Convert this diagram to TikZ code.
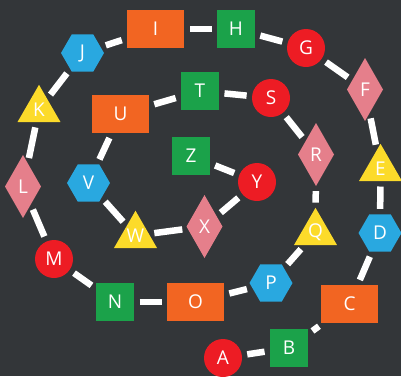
\documentclass[tikz,border=0pt]{standalone}
\usepackage{fontspec}
\setmainfont{Open Sans}
\usetikzlibrary{shapes.geometric}
\definecolor{bg}{HTML}{333639}
\definecolor{cred}{HTML}{ED1C24}
\definecolor{cgreen}{HTML}{1BA24A}
\definecolor{corange}{HTML}{F26522}
\definecolor{cblue}{HTML}{29A8E0}
\definecolor{cyellow}{HTML}{FCDB2A}
\definecolor{cpink}{HTML}{E57F8B}
\tikzset{
  base/.style={inner sep=0pt, outer sep=0pt, text=white, font=\fontsize{19}{19}\selectfont},
  circ/.style={base, circle, fill=cred, minimum size=38pt},
  sq/.style={base, rectangle, fill=cgreen, minimum width=38pt, minimum height=38pt},
  rect/.style={base, rectangle, fill=corange, minimum width=57pt, minimum height=38pt},
  hex/.style={base, regular polygon, regular polygon sides=6, fill=cblue, minimum size=43pt},
  tri/.style={base, regular polygon, regular polygon sides=3, fill=cyellow, minimum size=49.6pt},
  dia/.style={base, diamond, fill=cpink, minimum width=36pt, minimum height=63pt},
  link/.style={draw=white, line width=6.5pt, shorten >=5.5pt, shorten <=5.5pt}
}
\begin{document}
\begin{tikzpicture}[x=1pt,y=-1pt]
\fill[bg] (0,0) rectangle (401,376);
\useasboundingbox (0,0) rectangle (401,376);
\node[circ] (A) at (223,358) {A};
\node[sq]   (B) at (289,348) {B};
\node[rect] (C) at (349.5,304) {C};
\node[hex]  (D) at (380,233) {D};
\node[tri]  (E) at (380.5,168.6) {E};
\node[dia]  (F) at (365,89.5) {F};
\node[circ] (G) at (306,48) {G};
\node[sq]   (H) at (236,29) {H};
\node[rect] (I) at (155.5,29) {I};
\node[hex]  (J) at (82.5,53) {J};
\node[tri]  (K) at (39,109.6) {K};
\node[dia]  (L) at (23,186.5) {L};
\node[circ] (M) at (54,259) {M};
\node[sq]   (N) at (115,302) {N};
\node[rect] (O) at (195.5,302) {O};
\node[hex]  (P) at (271,283) {P};
\node[tri]  (Q) at (315.5,232.6) {Q};
\node[dia]  (R) at (316,154.5) {R};
\node[circ] (S) at (271,98) {S};
\node[sq]   (T) at (200,91) {T};
\node[rect] (U) at (120.5,114) {U};
\node[hex]  (V) at (88.5,183) {V};
\node[tri]  (W) at (135.5,235.6) {W};
\node[dia]  (X) at (204.5,226.5) {X};
\node[circ] (Y) at (257,182) {Y};
\node[sq]   (Z) at (191,156) {Z};
\foreach \a/\b in {A/B,B/C,C/D,D/E,E/F,F/G,G/H,H/I,I/J,J/K,K/L,L/M,M/N,N/O,O/P,P/Q,Q/R,R/S,S/T,T/U,U/V,V/W,W/X,X/Y,Y/Z}
  \draw[link] (\a) -- (\b);
\end{tikzpicture}
\end{document}
